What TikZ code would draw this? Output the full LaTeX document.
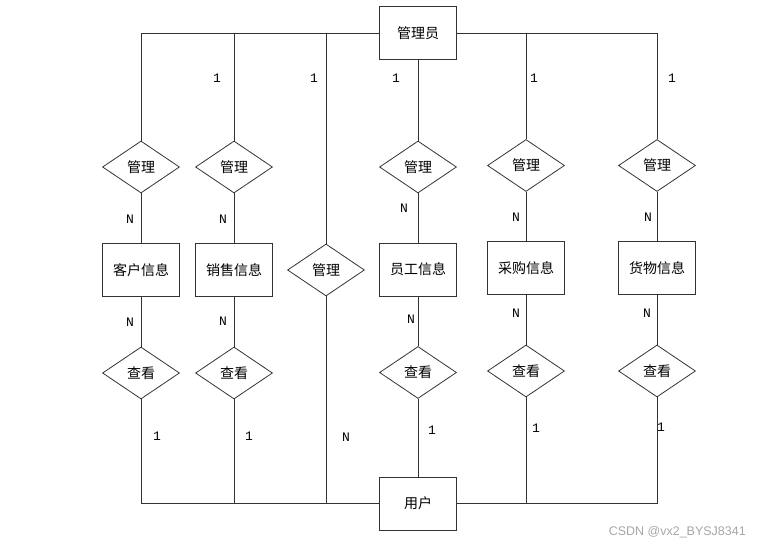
\documentclass[tikz,border=0pt]{standalone}
\usepackage{fontspec}
\setmainfont{Liberation Sans}
\newfontfamily\cjk{Noto Sans CJK SC}
\newfontfamily\monof{Liberation Mono}
\usetikzlibrary{shapes.geometric}
\tikzset{
  ent/.style={draw=black!80, line width=0.8pt, rectangle, minimum width=77pt, minimum height=53pt, inner sep=0pt, font=\cjk\fontsize{14}{16}\selectfont},
  rel/.style={draw=black!80, line width=0.8pt, diamond, minimum width=77pt, minimum height=52pt, inner sep=0pt, aspect=1.48, font=\cjk\fontsize{14}{16}\selectfont},
  conn/.style={draw=black!80, line width=0.8pt},
  lab/.style={inner sep=0pt, font=\monof\fontsize{13}{15}\selectfont},
}
\begin{document}
\begin{tikzpicture}[x=1pt,y=-1pt]
\useasboundingbox (0,0) rectangle (760,545);
% entities
\node[ent] (admin) at (418,33) {管理员};
\node[ent] (user) at (418,503.5) {用户};
\node[ent] (e1) at (141,270) {客户信息};
\node[ent] (e2) at (234,270) {销售信息};
\node[ent] (e4) at (418,269.5) {员工信息};
\node[ent] (e5) at (526,268) {采购信息};
\node[ent] (e6) at (657,268) {货物信息};
% relations
\node[rel] (m1) at (141,167) {管理};
\node[rel] (m2) at (234,167) {管理};
\node[rel] (m3) at (326,270) {管理};
\node[rel] (m4) at (418,167) {管理};
\node[rel] (m5) at (526,165.5) {管理};
\node[rel] (m6) at (657,165.5) {管理};
\node[rel] (c1) at (141,373) {查看};
\node[rel] (c2) at (234,373) {查看};
\node[rel] (c4) at (418,372.5) {查看};
\node[rel] (c5) at (526,371) {查看};
\node[rel] (c6) at (657,371) {查看};
% connectors top
\draw[conn] (admin.west) -| (m1.north);
\draw[conn] (admin.west) -| (m2.north);
\draw[conn] (admin.west) -| (m3.north);
\draw[conn] (admin.south) -- (m4.north);
\draw[conn] (admin.east) -| (m5.north);
\draw[conn] (admin.east) -| (m6.north);
% relation to entity
\draw[conn] (m1.south) -- (e1.north);
\draw[conn] (m2.south) -- (e2.north);
\draw[conn] (m4.south) -- (e4.north);
\draw[conn] (m5.south) -- (e5.north);
\draw[conn] (m6.south) -- (e6.north);
\draw[conn] (e1.south) -- (c1.north);
\draw[conn] (e2.south) -- (c2.north);
\draw[conn] (e4.south) -- (c4.north);
\draw[conn] (e5.south) -- (c5.north);
\draw[conn] (e6.south) -- (c6.north);
% bottom
\draw[conn] (c1.south) |- (user.west);
\draw[conn] (c2.south) |- (user.west);
\draw[conn] (m3.south) |- (user.west);
\draw[conn] (c4.south) -- (user.north);
\draw[conn] (c5.south) |- (user.east);
\draw[conn] (c6.south) |- (user.east);
% labels
\node[lab] (t2) at (217,78) {1};
\node[lab] (t3) at (314,78) {1};
\node[lab] (t4) at (396,78) {1};
\node[lab] (t5) at (534,78) {1};
\node[lab] (t6) at (672,78) {1};
\node[lab] (n1) at (130,219) {N};
\node[lab] (n2) at (223,219) {N};
\node[lab] (n4) at (404,208) {N};
\node[lab] (n5) at (516,217) {N};
\node[lab] (n6) at (648,217) {N};
\node[lab] (p1) at (130,322) {N};
\node[lab] (p2) at (223,321) {N};
\node[lab] (p4) at (411,319) {N};
\node[lab] (p5) at (516,313) {N};
\node[lab] (p6) at (647,313) {N};
\node[lab] (b1) at (157,436) {1};
\node[lab] (b2) at (249,436) {1};
\node[lab] (b3) at (346,437) {N};
\node[lab] (b4) at (432,430) {1};
\node[lab] (b5) at (536,428) {1};
\node[lab] (b6) at (661,427) {1};
% watermark
\node[inner sep=0pt, anchor=east, text=black!35, font=\fontsize{12.5}{14}\selectfont] (wm) at (746,532) {CSDN @vx2\_BYSJ8341};
\end{tikzpicture}
\end{document}
